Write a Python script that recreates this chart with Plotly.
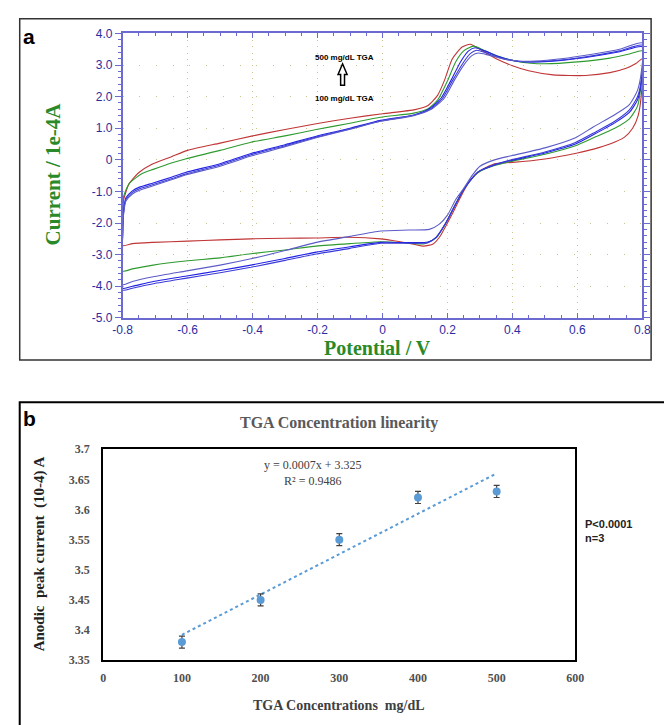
import numpy as np
import plotly.graph_objects as go

# ---------------- Panel a : cyclic voltammograms (potential V, current 1e-4 A) ----------------
red_E = [-0.8, -0.797, -0.78, -0.75, -0.71, -0.65, -0.6, -0.5, -0.4, -0.3, -0.2, -0.1, 0.0, 0.1, 0.14, 0.17, 0.19,
         0.215, 0.245, 0.27, 0.3, 0.35, 0.4, 0.45, 0.525, 0.625, 0.7, 0.75, 0.78, 0.8,
         0.798, 0.787, 0.77, 0.745, 0.7, 0.65, 0.6, 0.5, 0.4, 0.345, 0.3, 0.27, 0.246, 0.22, 0.195, 0.175, 0.156,
         0.126, 0.1, 0.075, 0.03, -0.006, -0.105, -0.204, -0.3, -0.405, -0.5, -0.6, -0.706, -0.77, -0.8, -0.8]
red_I = [-1.77, -1.26, -0.75, -0.40, -0.14, 0.1, 0.30, 0.53, 0.76, 0.96, 1.15, 1.32, 1.46, 1.59, 1.72, 2.05, 2.5,
         3.2, 3.57, 3.66, 3.5, 3.2, 2.98, 2.82, 2.69, 2.67, 2.76, 2.9, 3.05, 3.2,
         2.2, 1.4, 1.0, 0.72, 0.5, 0.34, 0.22, 0.03, -0.08, -0.12, -0.35, -0.65, -1.06, -1.6, -2.09, -2.45, -2.66,
         -2.73, -2.68, -2.63, -2.55, -2.50, -2.45, -2.47, -2.48, -2.50, -2.53, -2.57, -2.61, -2.65, -2.71, -1.77]

green_E = [-0.8, -0.797, -0.78, -0.74, -0.706, -0.65, -0.607, -0.5, -0.405, -0.3, -0.204, -0.1, -0.006, 0.096, 0.14,
           0.17, 0.2, 0.225, 0.25, 0.28, 0.31, 0.35, 0.4, 0.456, 0.5, 0.6, 0.7, 0.76, 0.8,
           0.797, 0.785, 0.76, 0.715, 0.65, 0.594, 0.5, 0.4, 0.345, 0.294, 0.27, 0.246, 0.22, 0.195, 0.165, 0.126,
           0.08, -0.006, -0.1, -0.204, -0.3, -0.405, -0.5, -0.607, -0.706, -0.77, -0.8, -0.8]
green_I = [-1.67, -1.15, -0.75, -0.43, -0.30, -0.1, 0.03, 0.30, 0.56, 0.76, 0.96, 1.16, 1.35, 1.48, 1.62,
           1.9, 2.5, 3.1, 3.45, 3.6, 3.48, 3.3, 3.15, 3.06, 3.04, 3.1, 3.22, 3.35, 3.45,
           2.5, 1.7, 1.3, 1.0, 0.7, 0.45, 0.18, -0.04, -0.18, -0.4, -0.66, -1.0, -1.5, -2.0, -2.47, -2.66,
           -2.63, -2.59, -2.65, -2.73, -2.85, -2.97, -3.1, -3.2, -3.33, -3.45, -3.52, -1.67]

blue1_E = [-0.8, -0.797, -0.79, -0.77, -0.75, -0.706, -0.65, -0.607, -0.5, -0.405, -0.3, -0.204, -0.1, -0.006, 0.096,
           0.144, 0.18, 0.21, 0.24, 0.265, 0.285, 0.315, 0.36, 0.41, 0.456, 0.55, 0.65, 0.73, 0.8,
           0.797, 0.785, 0.76, 0.715, 0.65, 0.594, 0.5, 0.396, 0.345, 0.294, 0.27, 0.246, 0.22, 0.195, 0.165, 0.14,
           0.1, -0.006, -0.1, -0.204, -0.3, -0.405, -0.5, -0.607, -0.706, -0.77, -0.8, -0.8]
blue1_I = [-2.35, -1.6, -1.2, -0.98, -0.87, -0.73, -0.55, -0.40, -0.12, 0.2, 0.48, 0.75, 1.0, 1.25, 1.42,
           1.62, 1.95, 2.5, 3.1, 3.45, 3.55, 3.45, 3.26, 3.13, 3.1, 3.15, 3.28, 3.42, 3.58,
           2.5, 1.9, 1.5, 1.17, 0.8, 0.5, 0.22, -0.02, -0.16, -0.38, -0.65, -1.0, -1.5, -1.99, -2.45, -2.6,
           -2.62, -2.61, -2.75, -2.92, -3.12, -3.33, -3.5, -3.68, -3.85, -4.0, -4.06, -2.35]

blue2_E = [-0.8, -0.797, -0.79, -0.77, -0.75, -0.706, -0.65, -0.607, -0.5, -0.405, -0.3, -0.204, -0.1, -0.006, 0.096,
           0.147, 0.185, 0.215, 0.245, 0.27, 0.29, 0.32, 0.365, 0.415, 0.46, 0.55, 0.65, 0.73, 0.8,
           0.797, 0.785, 0.76, 0.715, 0.65, 0.594, 0.5, 0.396, 0.345, 0.294, 0.27, 0.246, 0.22, 0.195, 0.165, 0.14,
           0.1, -0.006, -0.1, -0.204, -0.3, -0.405, -0.5, -0.607, -0.706, -0.77, -0.8, -0.8]
blue2_I = [-2.4, -1.65, -1.25, -1.03, -0.92, -0.78, -0.6, -0.45, -0.16, 0.16, 0.45, 0.72, 0.98, 1.23, 1.41,
           1.61, 1.95, 2.5, 3.02, 3.36, 3.47, 3.38, 3.22, 3.12, 3.1, 3.16, 3.3, 3.45, 3.63,
           2.55, 2.0, 1.58, 1.22, 0.85, 0.55, 0.25, 0.0, -0.15, -0.38, -0.66, -1.0, -1.5, -2.0, -2.45, -2.62,
           -2.64, -2.64, -2.8, -2.98, -3.18, -3.4, -3.57, -3.75, -3.92, -4.06, -4.12, -2.4]

blue3_E = [-0.8, -0.797, -0.79, -0.77, -0.75, -0.706, -0.65, -0.607, -0.5, -0.405, -0.3, -0.204, -0.1, -0.006, 0.096,
           0.15, 0.19, 0.22, 0.25, 0.275, 0.295, 0.325, 0.37, 0.42, 0.47, 0.55, 0.65, 0.73, 0.8,
           0.797, 0.785, 0.76, 0.715, 0.65, 0.594, 0.5, 0.396, 0.345, 0.3, 0.276, 0.25, 0.225, 0.2, 0.174, 0.144,
           0.08, -0.006, -0.1, -0.204, -0.3, -0.405, -0.5, -0.607, -0.706, -0.77, -0.8, -0.8]
blue3_I = [-2.3, -1.7, -1.3, -1.08, -0.97, -0.82, -0.63, -0.48, -0.2, 0.12, 0.42, 0.70, 0.97, 1.22, 1.4,
           1.6, 1.95, 2.5, 3.0, 3.3, 3.38, 3.32, 3.2, 3.13, 3.13, 3.2, 3.35, 3.5, 3.7,
           2.8, 2.2, 1.75, 1.43, 1.05, 0.70, 0.38, 0.13, 0.0, -0.2, -0.49, -0.9, -1.26, -1.75, -2.04, -2.20,
           -2.22, -2.25, -2.42, -2.61, -2.87, -3.13, -3.33, -3.52, -3.70, -3.85, -3.95, -2.3]

cv_names = ["100 mg/dL TGA", "200 mg/dL TGA", "300 mg/dL TGA", "400 mg/dL TGA", "500 mg/dL TGA"]
cv_colors = ["#c03535", "#2f9a2f", "#2222e6", "#3a3ad8", "#5c5cc8"]

a_xticks = [-0.8, -0.6, -0.4, -0.2, 0, 0.2, 0.4, 0.6, 0.8]
a_xlabels = ["-0.8", "-0.6", "-0.4", "-0.2", "0", "0.2", "0.4", "0.6", "0.8"]
a_yticks = [4, 3, 2, 1, 0, -1, -2, -3, -4, -5]
a_ylabels = ["4.0", "3.0", "2.0", "1.0", "0", "-1.0", "-2.0", "-3.0", "-4.0", "-5.0"]

# ---------------- Panel b : linearity ----------------
conc = [100, 200, 300, 400, 500]
peak_current = [3.38, 3.45, 3.55, 3.62, 3.63]
peak_err = [0.01, 0.01, 0.01, 0.01, 0.01]
b_yticks = [3.35, 3.4, 3.45, 3.5, 3.55, 3.6, 3.65, 3.7]
b_ylabels = ["3.35", "3.4", "3.45", "3.5", "3.55", "3.6", "3.65", "3.7"]
b_xticks = [0, 100, 200, 300, 400, 500, 600]

W, H = 664, 725
def px(x):
    return x / W
def py(y):
    return (H - y) / H

fig = go.Figure()

cv_E = [red_E, green_E, blue1_E, blue2_E, blue3_E]
cv_I = [red_I, green_I, blue1_I, blue2_I, blue3_I]
for E, I, name, col in zip(cv_E, cv_I, cv_names, cv_colors):
    fig.add_trace(go.Scatter(x=E, y=I, mode="lines", name=name, showlegend=False,
                             line=dict(color=col, width=1.1, shape="spline", smoothing=0.6),
                             xaxis="x", yaxis="y"))

slope, intercept = np.polyfit(conc, peak_current, 1)
fit_x = [conc[0], conc[-1]]
fit_y = [slope * v + intercept for v in fit_x]
fig.add_trace(go.Scatter(x=fit_x, y=fit_y, mode="lines", showlegend=False,
                         line=dict(color="#5b9bd5", width=2, dash="dot"), xaxis="x2", yaxis="y2"))
fig.add_trace(go.Scatter(x=conc, y=peak_current, mode="markers", showlegend=False,
                         marker=dict(color="#5b9bd5", size=8),
                         error_y=dict(type="data", array=peak_err, color="#404040", thickness=1.2, width=3),
                         xaxis="x2", yaxis="y2"))

axis_blue = "#6a6ad0"
tick_blue = "#2c2ca0"
serif = "Liberation Serif"
sans = "Liberation Sans"

fig.update_layout(
    width=W, height=H, margin=dict(l=0, r=0, t=0, b=0),
    paper_bgcolor="white", plot_bgcolor="white",
    xaxis=dict(domain=[px(116), px(651)], anchor="y", range=[-0.8, 0.8],
               tickvals=a_xticks, ticktext=a_xlabels,
               tickfont=dict(family=sans, size=12, color=tick_blue),
               showline=True, linecolor=axis_blue, linewidth=1.5, mirror="allticks",
               ticks="inside", ticklen=5, tickcolor=axis_blue,
               minor=dict(dtick=0.05, ticks="inside", ticklen=3, tickcolor=axis_blue, showgrid=False),
               showgrid=True, gridcolor="#c8c48a", griddash="1px,5.4px", gridwidth=1,
               zeroline=False),
    yaxis=dict(domain=[py(317), py(27)], anchor="x", range=[-5, 4],
               tickvals=a_yticks, ticktext=a_ylabels,
               tickfont=dict(family=sans, size=12, color=tick_blue),
               showline=True, linecolor=axis_blue, linewidth=1.5, mirror="allticks",
               ticks="outside", ticklen=6, tickcolor=axis_blue,
               minor=dict(dtick=0.2, ticks="outside", ticklen=3, tickcolor=axis_blue, showgrid=False),
               showgrid=True, gridcolor="#c8c48a", griddash="1px,15.7px", gridwidth=1,
               zeroline=False),
    xaxis2=dict(domain=[px(96), px(582)], anchor="y2", range=[0, 600],
                tickvals=b_xticks,
                tickfont=dict(family=serif, size=12, color="#505050", weight="bold"),
                showline=True, linecolor="black", linewidth=2, mirror=True,
                ticks="", showgrid=False, zeroline=False, ticklabelstandoff=5),
    yaxis2=dict(domain=[py(666), py(451)], anchor="x2", range=[3.35, 3.7],
                tickvals=b_yticks, ticktext=b_ylabels,
                tickfont=dict(family=serif, size=12, color="#505050", weight="bold"),
                showline=True, linecolor="black", linewidth=2, mirror=True,
                ticks="", showgrid=False, zeroline=False, ticklabelstandoff=9),
)

shapes = [
    dict(type="rect", xref="paper", yref="paper", x0=px(10), x1=px(660), y0=py(360), y1=py(12),
         line=dict(color="#333333", width=1.5), fillcolor="rgba(0,0,0,0)", layer="below"),
    dict(type="rect", xref="paper", yref="paper", x0=px(10), x1=1.05, y0=-0.05, y1=py(403),
         line=dict(color="black", width=2), fillcolor="rgba(0,0,0,0)", layer="below"),
    # hollow arrow between the two concentration labels
    dict(type="path", xref="x", yref="y",
         path="M -0.129 2.36 L -0.129 2.70 L -0.137 2.70 L -0.123 3.04 L -0.109 2.70 L -0.117 2.70 L -0.117 2.36 Z",
         line=dict(color="black", width=1.5), fillcolor="white"),
]

annotations = [
    dict(text="<b>a</b>", x=px(20), y=py(30), xref="paper", yref="paper", showarrow=False,
         font=dict(family=sans, size=21, color="black"), xanchor="center", yanchor="middle"),
    dict(text="<b>b</b>", x=px(20), y=py(420), xref="paper", yref="paper", showarrow=False,
         font=dict(family=sans, size=21, color="black"), xanchor="center", yanchor="middle"),
    dict(text="<b>Current / 1e-4A</b>", x=px(44), y=py(170), xref="paper", yref="paper", showarrow=False,
         textangle=-90, font=dict(family=serif, size=21, color="#2a8a2a"), xanchor="center", yanchor="middle"),
    dict(text="<b>Potential / V</b>", x=px(378), y=py(348), xref="paper", yref="paper", showarrow=False,
         font=dict(family=serif, size=20, color="#2a8a2a"), xanchor="center", yanchor="middle"),
    dict(text="<b>500 mg/dL TGA</b>", x=px(344), y=py(52), xref="paper", yref="paper", showarrow=False,
         font=dict(family=sans, size=8, color="black"), xanchor="center", yanchor="middle"),
    dict(text="<b>100 mg/dL TGA</b>", x=px(344), y=py(93), xref="paper", yref="paper", showarrow=False,
         font=dict(family=sans, size=8, color="black"), xanchor="center", yanchor="middle"),
    dict(text="<b>TGA Concentration linearity</b>", x=px(339), y=py(424), xref="paper", yref="paper",
         showarrow=False, font=dict(family=serif, size=16, color="#595959"), xanchor="center", yanchor="middle"),
    dict(text="y = 0.0007x + 3.325<br>R² = 0.9486", x=px(312), y=py(475), xref="paper", yref="paper",
         showarrow=False, font=dict(family=serif, size=12, color="#404040"), xanchor="center", yanchor="middle"),
    dict(text="<b>Anodic  peak current  (10-4) A</b>", x=px(30), y=py(558), xref="paper", yref="paper",
         showarrow=False, textangle=-90, font=dict(family=serif, size=15, color="#222222"),
         xanchor="center", yanchor="middle"),
    dict(text="<b>TGA Concentrations  mg/dL</b>", x=px(339), y=py(712), xref="paper", yref="paper",
         showarrow=False, font=dict(family=serif, size=14, color="#404040"), xanchor="center", yanchor="middle"),
    dict(text="<b>P<0.0001<br>n=3</b>", x=px(590), y=py(534), xref="paper", yref="paper", showarrow=False,
         align="left", font=dict(family=sans, size=11, color="#222222"), xanchor="left", yanchor="middle"),
]

fig.update_layout(shapes=shapes, annotations=annotations)
fig.write_html("out.html", post_script="document.body.style.margin='0';")
